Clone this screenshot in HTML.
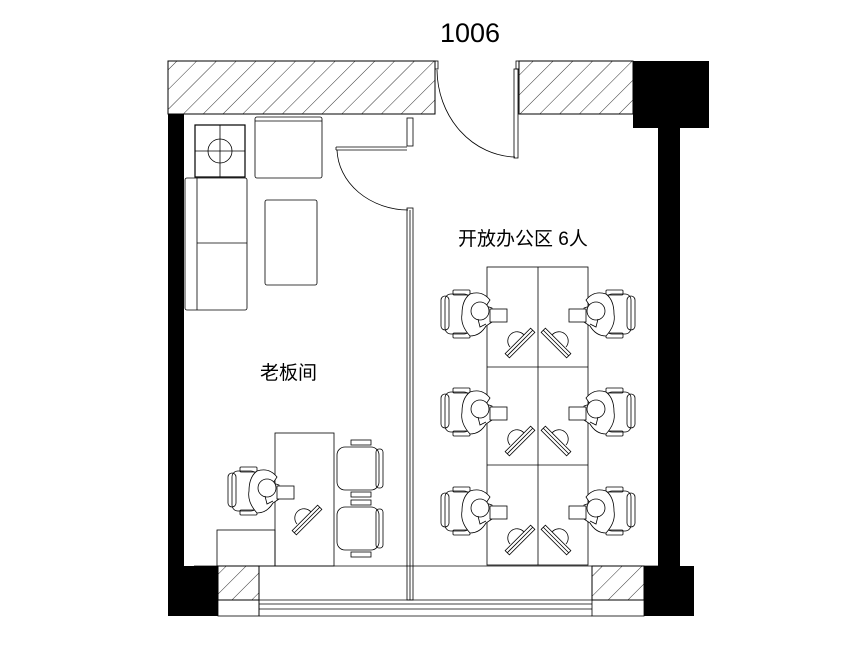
<!DOCTYPE html>
<html><head><meta charset="utf-8"><style>
html,body{margin:0;padding:0;background:#fff;}
svg{display:block;}
text{font-family:"Liberation Sans","Noto Sans CJK SC",sans-serif;fill:#000;}
</style></head><body>
<svg width="861" height="669" viewBox="0 0 861 669" xmlns="http://www.w3.org/2000/svg">
<defs>
<pattern id="h" patternUnits="userSpaceOnUse" width="14" height="14" patternTransform="rotate(45)">
<line x1="0" y1="0" x2="0" y2="14" stroke="#000" stroke-width="0.8"/>
</pattern>
<g id="ws" fill="none" stroke="#000" stroke-width="0.8">
<rect x="441" y="296" width="8" height="34" rx="4"/>
<rect x="445" y="294" width="25" height="40" rx="6"/>
<rect x="453" y="290" width="17" height="5" rx="1"/>
<rect x="453" y="333" width="17" height="5" rx="1"/>
<path d="M470 294 Q482 290 490 300 L486 306 L492 308 L492 322 L486 326 Q480 336 470 336 Q460 325 462 314 Q462 300 470 294Z" fill="#fff"/>
<circle cx="480" cy="311" r="9" fill="#fff"/>
<path d="M478 319 L480 327 L486 324"/>
<rect x="490" y="309" width="17" height="13" fill="#fff"/>
<path d="M510 347 A8 8 0 0 1 524 335" />
<g transform="rotate(-45 520 343)"><rect x="502" y="340" width="36" height="6"/><line x1="502" y1="343" x2="538" y2="343"/></g>
</g>
</defs>
<!-- title -->
<text x="470" y="42" font-size="27" text-anchor="middle">1006</text>
<!-- top walls -->
<rect x="168" y="61" width="267" height="53" fill="url(#h)" stroke="#000" stroke-width="1"/>
<rect x="519" y="61" width="114" height="53" fill="url(#h)" stroke="#000" stroke-width="1"/>
<rect x="633" y="61" width="76" height="67" fill="#000"/>
<rect x="658" y="128" width="22" height="440" fill="#000"/>
<rect x="168" y="114" width="16" height="454" fill="#000"/>
<!-- entrance door -->
<g fill="none" stroke="#000" stroke-width="0.8">
<rect x="435" y="61" width="3" height="8"/>
<rect x="516" y="61" width="3" height="8"/>
<rect x="514" y="69" width="4" height="89"/>
<path d="M437 70 A80 88 0 0 0 515 157"/>
<!-- interior partition -->
<rect x="407" y="118" width="6" height="28"/>
<line x1="336" y1="147" x2="407" y2="147"/>
<line x1="336" y1="150" x2="407" y2="150"/>
<line x1="336" y1="147" x2="336" y2="150"/>
<path d="M337 150 A72 62 0 0 0 408 210"/>
<rect x="407" y="208" width="6" height="392"/>
<line x1="410" y1="210" x2="410" y2="600"/>
<!-- kitchen -->
<rect x="195" y="125" width="50" height="52" stroke-width="1.2"/>
<line x1="220" y1="125" x2="220" y2="177"/>
<line x1="195" y1="151" x2="245" y2="151"/>
<circle cx="220" cy="151" r="12"/>
<rect x="255" y="117" width="67" height="61" rx="2"/>
<line x1="255" y1="121" x2="322" y2="121"/>
<!-- sofa -->
<rect x="185" y="178" width="62" height="132" rx="2"/>
<line x1="197" y1="178" x2="197" y2="310"/>
<line x1="197" y1="243" x2="247" y2="243"/>
<rect x="265" y="200" width="52" height="85" rx="2"/>
<!-- director desk -->
<rect x="275" y="433" width="59" height="133"/>
<rect x="217" y="530" width="58" height="36"/>
<!-- visitor chairs -->
<rect x="337" y="447" width="42" height="43" rx="8"/>
<rect x="376" y="449" width="7" height="39" rx="3"/>
<rect x="351" y="440" width="20" height="5"/>
<rect x="351" y="492" width="20" height="5"/>
<rect x="337" y="507" width="42" height="43" rx="8"/>
<rect x="376" y="509" width="7" height="39" rx="3"/>
<rect x="351" y="500" width="20" height="5"/>
<rect x="351" y="552" width="20" height="5"/>
<!-- workstation desks -->
<rect x="487" y="267" width="101" height="298"/>
<line x1="538" y1="267" x2="538" y2="565"/>
<line x1="487" y1="367" x2="588" y2="367"/>
<line x1="487" y1="465" x2="588" y2="465"/>
</g>
<!-- workstations -->
<use href="#ws"/>
<use href="#ws" transform="translate(0,98)"/>
<use href="#ws" transform="translate(0,197)"/>
<use href="#ws" transform="translate(1076,0) scale(-1,1)"/>
<use href="#ws" transform="translate(1076,98) scale(-1,1)"/>
<use href="#ws" transform="translate(1076,197) scale(-1,1)"/>
<!-- director -->
<use href="#ws" transform="translate(-213,177)"/>
<!-- bottom walls -->
<rect x="168" y="566" width="50" height="50" fill="#000"/>
<rect x="218" y="566" width="41" height="34" fill="url(#h)" stroke="#000" stroke-width="1"/>
<rect x="218" y="600" width="41" height="16" fill="none" stroke="#000" stroke-width="0.8"/>
<rect x="592" y="566" width="52" height="34" fill="url(#h)" stroke="#000" stroke-width="1"/>
<rect x="592" y="600" width="52" height="16" fill="none" stroke="#000" stroke-width="0.8"/>
<rect x="644" y="566" width="50" height="50" fill="#000"/>
<g stroke="#000" stroke-width="0.8">
<line x1="184" y1="566" x2="658" y2="566"/>
<line x1="259" y1="600" x2="592" y2="600"/>
<line x1="259" y1="604" x2="592" y2="604"/>
<line x1="259" y1="609" x2="592" y2="609"/>
<line x1="259" y1="616" x2="592" y2="616"/>
<line x1="259" y1="600" x2="259" y2="616"/>
</g>
<rect x="184" y="560" width="10" height="6" fill="#fff"/>
<text x="458" y="245" font-size="19">开放办公区 6人</text>
<text x="260" y="379" font-size="19">老板间</text>
</svg>
</body></html>
